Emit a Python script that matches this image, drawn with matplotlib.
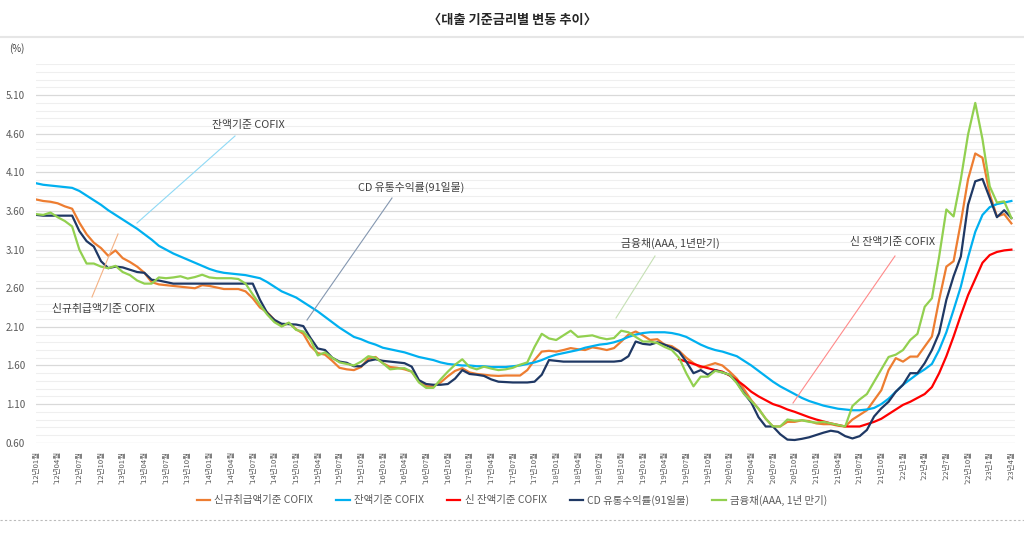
import numpy as np
import matplotlib
matplotlib.use('Agg')
import matplotlib.pyplot as plt
from matplotlib.lines import Line2D

plt.rcParams['font.family'] = ['Noto Sans CJK KR', 'DejaVu Sans']

# 월별 금리 (%) : 2012년 01월 ~ 2023년 04월
new_cofix = [
    3.75, 3.73, 3.72, 3.70, 3.66, 3.63, 3.45, 3.30, 3.19, 3.12, 3.02, 3.09,
    2.99, 2.94, 2.88, 2.80, 2.68, 2.65, 2.64, 2.63, 2.62, 2.61, 2.60, 2.64,
    2.63, 2.61, 2.59, 2.59, 2.59, 2.56, 2.47, 2.35, 2.29, 2.19, 2.11, 2.15,
    2.07, 2.01, 1.85, 1.76, 1.74, 1.66, 1.57, 1.55, 1.54, 1.58, 1.69, 1.71,
    1.63, 1.58, 1.57, 1.55, 1.52, 1.39, 1.33, 1.33, 1.38, 1.46, 1.53, 1.565,
    1.51, 1.49, 1.48, 1.47, 1.465, 1.47, 1.47, 1.47, 1.54, 1.67, 1.78, 1.79,
    1.78, 1.80, 1.825, 1.81, 1.80, 1.835, 1.82, 1.80, 1.825, 1.91, 2.00, 2.04,
    1.99, 1.93, 1.94, 1.87, 1.85, 1.79, 1.70, 1.63, 1.57, 1.60, 1.63, 1.60,
    1.52, 1.43, 1.29, 1.15, 1.04, 0.91, 0.81, 0.81, 0.87, 0.87, 0.89, 0.88,
    0.85, 0.84, 0.84, 0.82, 0.81, 0.90, 0.96, 1.02, 1.15, 1.28, 1.54, 1.695,
    1.65, 1.715, 1.715, 1.845, 1.975, 2.45, 2.88, 2.95, 3.45, 4.01, 4.345, 4.29,
    3.82, 3.53, 3.56, 3.44,
]

bal_cofix = [
    3.96, 3.94, 3.93, 3.92, 3.91, 3.90, 3.86, 3.80, 3.74, 3.68, 3.61, 3.55,
    3.49, 3.43, 3.37, 3.30, 3.23, 3.15, 3.10, 3.05, 3.01, 2.97, 2.93, 2.89,
    2.85, 2.82, 2.80, 2.79, 2.78, 2.77, 2.75, 2.73, 2.68, 2.62, 2.56, 2.52,
    2.48, 2.42, 2.36, 2.30, 2.23, 2.16, 2.09, 2.03, 1.97, 1.94, 1.90, 1.87,
    1.83, 1.81, 1.79, 1.77, 1.74, 1.71, 1.69, 1.67, 1.64, 1.62, 1.61, 1.60,
    1.60, 1.59, 1.59, 1.58, 1.58, 1.58, 1.59, 1.60, 1.62, 1.64, 1.67, 1.71,
    1.74, 1.76, 1.78, 1.80, 1.83, 1.85, 1.87, 1.88, 1.90, 1.93, 1.97, 2.00,
    2.02, 2.03, 2.03, 2.03, 2.02, 2.00, 1.97, 1.92, 1.87, 1.83, 1.80, 1.78,
    1.75, 1.72, 1.66, 1.60, 1.53, 1.46, 1.39, 1.33, 1.28, 1.23, 1.18, 1.14,
    1.11, 1.08, 1.06, 1.04, 1.03, 1.02, 1.02, 1.03, 1.05, 1.10, 1.17, 1.26,
    1.35, 1.42, 1.49, 1.55, 1.62, 1.80, 2.03, 2.32, 2.62, 3.00, 3.33, 3.55,
    3.65, 3.69, 3.71, 3.73,
]

# 신 잔액기준 COFIX : 2019년 06월부터
new_bal_start = 89
new_bal_cofix = [
    1.68, 1.65, 1.62, 1.59, 1.565, 1.54, 1.52,
    1.47, 1.41, 1.34, 1.26, 1.20, 1.15, 1.10, 1.07, 1.03, 1.00, 0.965, 0.93,
    0.90, 0.875, 0.85, 0.83, 0.81, 0.81, 0.81, 0.84, 0.87, 0.91, 0.97, 1.03,
    1.09, 1.13, 1.18, 1.23, 1.32, 1.50, 1.72, 1.975, 2.25, 2.51, 2.72, 2.93,
    3.03, 3.07, 3.09, 3.10,
]

cd_91 = [
    3.55, 3.54, 3.54, 3.54, 3.54, 3.54, 3.34, 3.21, 3.14, 2.95, 2.86, 2.88,
    2.87, 2.84, 2.81, 2.80, 2.71, 2.70, 2.68, 2.66, 2.66, 2.66, 2.66, 2.66,
    2.66, 2.66, 2.66, 2.66, 2.66, 2.66, 2.66, 2.45, 2.28, 2.19, 2.14, 2.135,
    2.13, 2.11, 1.955, 1.82, 1.80, 1.70, 1.65, 1.635, 1.59, 1.59, 1.66, 1.68,
    1.66, 1.65, 1.64, 1.63, 1.585, 1.41, 1.36, 1.35, 1.35, 1.36, 1.43, 1.54,
    1.49, 1.48, 1.465, 1.42, 1.39, 1.385, 1.38, 1.38, 1.38, 1.39, 1.48, 1.67,
    1.66, 1.65, 1.65, 1.65, 1.65, 1.65, 1.65, 1.65, 1.65, 1.66, 1.72, 1.91,
    1.88, 1.87, 1.90, 1.87, 1.83, 1.78, 1.65, 1.50, 1.54, 1.48, 1.54, 1.51,
    1.48, 1.38, 1.24, 1.12, 0.93, 0.81, 0.81, 0.71, 0.64, 0.635, 0.65, 0.67,
    0.70, 0.73, 0.755, 0.74, 0.685, 0.655, 0.685, 0.765, 0.94, 1.045, 1.13, 1.26,
    1.35, 1.50, 1.50, 1.63, 1.80, 2.02, 2.45, 2.755, 3.01, 3.68, 3.985, 4.015,
    3.77, 3.52, 3.61, 3.51,
]

bank_bond = [
    3.56, 3.55, 3.58, 3.52, 3.47, 3.40, 3.10, 2.92, 2.92, 2.88, 2.86, 2.89,
    2.81, 2.77, 2.70, 2.66, 2.66, 2.74, 2.73, 2.74, 2.755, 2.725, 2.745, 2.775,
    2.74, 2.73, 2.73, 2.73, 2.72, 2.66, 2.52, 2.385, 2.26, 2.16, 2.105, 2.155,
    2.06, 2.04, 1.93, 1.73, 1.77, 1.70, 1.64, 1.62, 1.60, 1.65, 1.72, 1.70,
    1.63, 1.55, 1.56, 1.565, 1.52, 1.38, 1.31, 1.31, 1.42, 1.52, 1.61, 1.68,
    1.58, 1.55, 1.585, 1.56, 1.54, 1.55, 1.57, 1.61, 1.64, 1.84, 2.01, 1.95,
    1.93, 1.99, 2.05, 1.97, 1.98, 1.99, 1.96, 1.94, 1.955, 2.05, 2.03, 1.97,
    1.91, 1.91, 1.89, 1.84, 1.80, 1.70, 1.50, 1.33, 1.455, 1.455, 1.53, 1.51,
    1.48, 1.37, 1.23, 1.14, 1.04, 0.91, 0.81, 0.81, 0.90, 0.885, 0.89, 0.87,
    0.86, 0.87, 0.85, 0.83, 0.81, 1.075, 1.16, 1.23, 1.39, 1.55, 1.71, 1.74,
    1.80, 1.93, 2.01, 2.36, 2.47, 3.01, 3.62, 3.53, 4.01, 4.59, 5.00, 4.53,
    3.92, 3.71, 3.725, 3.51,
]

tick_labels = [
    "'12년01월", "'12년04월", "'12년07월", "'12년10월",
    "'13년01월", "'13년04월", "'13년07월", "'13년10월",
    "'14년01월", "'14년04월", "'14년07월", "'14년10월",
    "'15년01월", "'15년04월", "'15년07월", "'15년10월",
    "'16년01월", "'16년04월", "'16년07월", "'16년10월",
    "'17년01월", "'17년04월", "'17년07월", "'17년10월",
    "'18년01월", "'18년04월", "'18년07월", "'18년10월",
    "'19년01월", "'19년04월", "'19년07월", "'19년10월",
    "'20년01월", "'20년04월", "'20년07월", "'20년10월",
    "'21년01월", "'21년04월", "'21년07월", "'21년10월",
    "'22년1월", "'22년4월", "'22년7월", "'22년10월",
    "'23년1월", "'23년4월",
]

series_names = ['신규취급액기준 COFIX', '잔액기준 COFIX', '신 잔액기준 COFIX',
                'CD 유통수익률(91일물)', '금융채(AAA, 1년 만기)']
colors = ['#ED7D31', '#00B0F0', '#FF0000', '#1F3864', '#92D050']

W, H = 1024, 542
fig = plt.figure(figsize=(W / 100, H / 100), dpi=100)


def fx(px):
    return px / W


def fy(py):
    return 1 - py / H


ax = fig.add_axes([fx(36), fy(442.7), fx(1015) - fx(36), fy(64.3) - fy(442.7)])

months = np.arange(len(bal_cofix))
red = np.full(len(months), np.nan)
red[new_bal_start:new_bal_start + len(new_bal_cofix)] = new_bal_cofix

all_series = [new_cofix, bal_cofix, red, cd_91, bank_bond]
for k, (vals, name, c) in enumerate(zip(all_series, series_names, colors)):
    ax.plot(months, vals, color=c, lw=1.6, label=name, zorder=3 + k,
            solid_joinstyle='round')

ax.set_xlim(0, 135.5)
ax.set_ylim(0.6, 5.5)
ax.set_yticks(np.arange(0.6, 5.11, 0.5))
ax.set_yticklabels([f'{v:.2f}' for v in np.arange(0.6, 5.11, 0.5)])
ax.set_yticks(np.arange(0.6, 5.51, 0.1), minor=True)
ax.grid(axis='y', which='minor', color='#EFEFEF', lw=0.8, zorder=0)
ax.grid(axis='y', which='major', color='#D9D9D9', lw=0.9, zorder=1)
ax.set_xticks(np.arange(0, len(months), 3))
ax.set_xticklabels(tick_labels, rotation=90, fontsize=5.5, color='#595959')
ax.tick_params(axis='both', which='both', length=0)
ax.tick_params(axis='y', labelsize=7, labelcolor='#595959', pad=8)
ax.tick_params(axis='x', pad=6)
for s in ax.spines.values():
    s.set_visible(False)

# title and frame
fig.text(0.5, fy(20), '〈대출 기준금리별 변동 추이〉', ha='center', va='center',
         fontsize=9.5, fontweight='bold', color='#262626')
fig.add_artist(Line2D([0, 1], [fy(37), fy(37)], color='#E6E6E6', lw=1.5))
fig.add_artist(Line2D([0, 1], [fy(520), fy(520)], color='#BBBBBB', lw=0.8,
                      ls=(0, (2, 2))))
fig.text(fx(17), fy(49), '(%)', ha='center', va='center', fontsize=7, color='#404040')

# callouts
callouts = [
    ('잔액기준 COFIX', (248, 125), (137, 223), (235, 136), '#8FD9F5'),
    ('신규취급액기준 COFIX', (103, 309), (92, 297), (118, 234), '#F4B183'),
    ('CD 유통수익률(91일물)', (411, 187), (307, 320), (392, 198), '#8497B0'),
    ('금융채(AAA, 1년만기)', (670, 243), (616, 318), (655, 256), '#C5E0B4'),
    ('신 잔액기준 COFIX', (893, 242), (793, 403), (895, 256), '#FF8A8A'),
]
for text, (tx, ty), (x0, y0), (x1, y1), lc in callouts:
    fig.add_artist(Line2D([fx(x0), fx(x1)], [fy(y0), fy(y1)], color=lc, lw=0.8))
    fig.text(fx(tx), fy(ty), text, ha='center', va='center', fontsize=7.8,
             color='#404040')

fig.legend(loc='center', bbox_to_anchor=(0.5, fy(500)), ncol=5, frameon=False,
           fontsize=7.5, handlelength=1.3, handletextpad=0.4, columnspacing=2.2,
           labelcolor='#595959')

fig.savefig('out.png', dpi=100, facecolor='white')
